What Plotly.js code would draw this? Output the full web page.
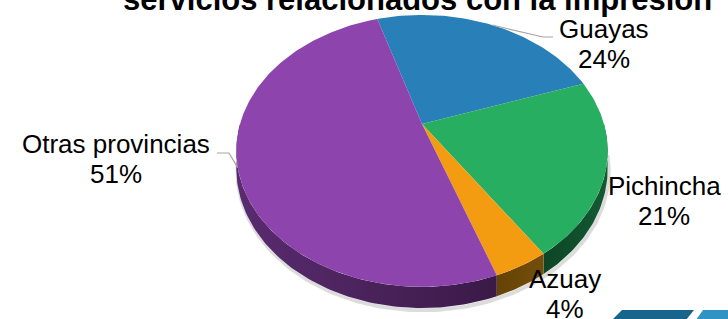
<!DOCTYPE html>
<html><head><meta charset="utf-8">
<script src="https://cdn.plot.ly/plotly-3.0.1.min.js"></script>
<style>html,body{margin:0;padding:0;background:#fff}#chart{width:728px;height:319px}</style>
</head><body><div id="chart"></div>
<script>
// ---- data ----
const titleText = 'servicios relacionados con la impresión';
const labels = ['Guayas', 'Pichincha', 'Azuay', 'Otras provincias'];
const values = [24.4, 20.9, 4.0, 50.7];
const topColors = ['#2980B9', '#27AE60', '#F39C12', '#8E44AD'];
const sideLight = ['#1a4f72', '#145a33', '#744e0a', '#5a2b70'];
const sideDark = ['#14405c', '#0d4526', '#654205', '#3a1a47'];

// ---- geometry (3D perspective pie) ----
const W = 728, H = 319, CX = 422, CY = 124, S = 182;
const K = 0.198, A = 0.7176, T = 0.0934, START = -17;
function proj(phiDeg, depth) {
  const p = phiDeg * Math.PI / 180;
  const X = Math.sin(p), Z = Math.cos(p);
  const w = 1 + K * Z;
  return [X / w, (A * Z - T * depth) / w];
}
function ax(px) { return (px - CX) / S; }
function ay(py) { return (CY - py) / S; }

const total = values.reduce((a, b) => a + b, 0);
const bounds = [];
let acc = START;
values.forEach(v => { const a0 = acc; acc += v / total * 360; bounds.push([a0, acc]); });

const traces = [];
// soft shadow under the front rim
(function () {
  const xs = [], ys = [];
  for (let d = 95; d <= 265; d++) { const [x, y] = proj(d, 1); xs.push(x + 0.006); ys.push(y - 0.012); }
  traces.push({type: 'scatter', mode: 'lines', x: xs, y: ys, line: {color: '#9a9a9a', width: 4},
    opacity: 0.35, hoverinfo: 'skip', showlegend: false});
})();
// side walls (front half only)
bounds.forEach(([a0, a1], i) => {
  const lo = Math.max(a0, 90), hi = Math.min(a1, 270);
  if (hi <= lo) return;
  const xs = [], ys = [];
  const n = Math.max(2, Math.ceil(hi - lo));
  for (let j = 0; j <= n; j++) { const [x, y] = proj(lo + (hi - lo) * j / n, 0); xs.push(x); ys.push(y); }
  for (let j = n; j >= 0; j--) { const [x, y] = proj(lo + (hi - lo) * j / n, 1); xs.push(x); ys.push(y); }
  traces.push({type: 'scatter', mode: 'lines', x: xs, y: ys, fill: 'toself', fillcolor: sideDark[i],
    fillgradient: {type: 'horizontal', colorscale: i === 3 ? [[0, sideLight[i]], [1, sideDark[i]]] : [[0, sideDark[i]], [1, sideLight[i]]]},
    line: {width: 0, color: sideDark[i]}, hoverinfo: 'skip', showlegend: false});
});
// top faces
bounds.forEach(([a0, a1], i) => {
  const xs = [0], ys = [0];
  const n = Math.max(2, Math.ceil(a1 - a0));
  for (let j = 0; j <= n; j++) { const [x, y] = proj(a0 + (a1 - a0) * j / n, 0); xs.push(x); ys.push(y); }
  xs.push(0); ys.push(0);
  traces.push({type: 'scatter', mode: 'lines', x: xs, y: ys, fill: 'toself', fillcolor: topColors[i],
    line: {width: 0, color: topColors[i]}, name: labels[i], showlegend: false});
});

// label placement (pixel centre x, baseline y of first line)
const labelPos = [[604, 38], [664, 195], [565, 288], [116, 153]];
const FS = 26, LINE = 30;
const font = {family: 'Liberation Sans, Arial, sans-serif', size: FS, color: '#000'};
const annotations = [];
labels.forEach((lab, i) => {
  const [px, py] = labelPos[i];
  annotations.push({x: ax(px), y: ay(py - 9), xref: 'x', yref: 'y', text: lab, showarrow: false,
    xanchor: 'center', yanchor: 'middle', font: font});
  annotations.push({x: ax(px), y: ay(py + LINE - 9), xref: 'x', yref: 'y',
    text: Math.round(values[i] / total * 100) + '%', showarrow: false,
    xanchor: 'center', yanchor: 'middle', font: font});
});
annotations.push({x: 417 / W, y: 1 + 1 / H, xref: 'paper', yref: 'paper', text: '<b>' + titleText + '</b>',
  showarrow: false, xanchor: 'center', yanchor: 'middle',
  font: {family: 'Liberation Sans, Arial, sans-serif', size: 31, color: '#000'}});

// leader lines (from slice mid-angle rim to label)
const leaders = {0: [[543, 37], [553, 37]], 3: [[229, 153], [217, 153]]};
Object.keys(leaders).forEach(k => {
  const i = +k; const mid = (bounds[i][0] + bounds[i][1]) / 2;
  const [x0, y0] = proj(mid, 0);
  const pts = leaders[k];
  traces.push({type: 'scatter', mode: 'lines', x: [x0, ax(pts[0][0]), ax(pts[1][0])],
    y: [y0, ay(pts[0][1]), ay(pts[1][1])], line: {color: '#a6a6a6', width: 1.2},
    hoverinfo: 'skip', showlegend: false});
});

function pp(pts) { return 'M' + pts.map(p => (p[0] / W) + ',' + (1 - p[1] / H)).join(' L') + ' Z'; }
const shapes = [
  {type: 'path', xref: 'paper', yref: 'paper', path: pp([[612, 320], [622, 310], [694, 310], [686, 320]]),
    fillcolor: '#17658d', line: {width: 0}},
  {type: 'path', xref: 'paper', yref: 'paper', path: pp([[696, 320], [703, 310], [728, 310], [728, 320]]),
    fillcolor: '#2f93c4', line: {width: 0}}
];

const layout = {
  width: W, height: H, margin: {l: 0, r: 0, t: 0, b: 0},
  paper_bgcolor: '#fff', plot_bgcolor: '#fff',
  xaxis: {range: [ax(0), ax(W)], visible: false, fixedrange: true},
  yaxis: {range: [ay(H), ay(0)], visible: false, fixedrange: true},
  annotations: annotations, shapes: shapes, showlegend: false
};
Plotly.newPlot('chart', traces, layout, {displayModeBar: false, staticPlot: true});
</script></body></html>
